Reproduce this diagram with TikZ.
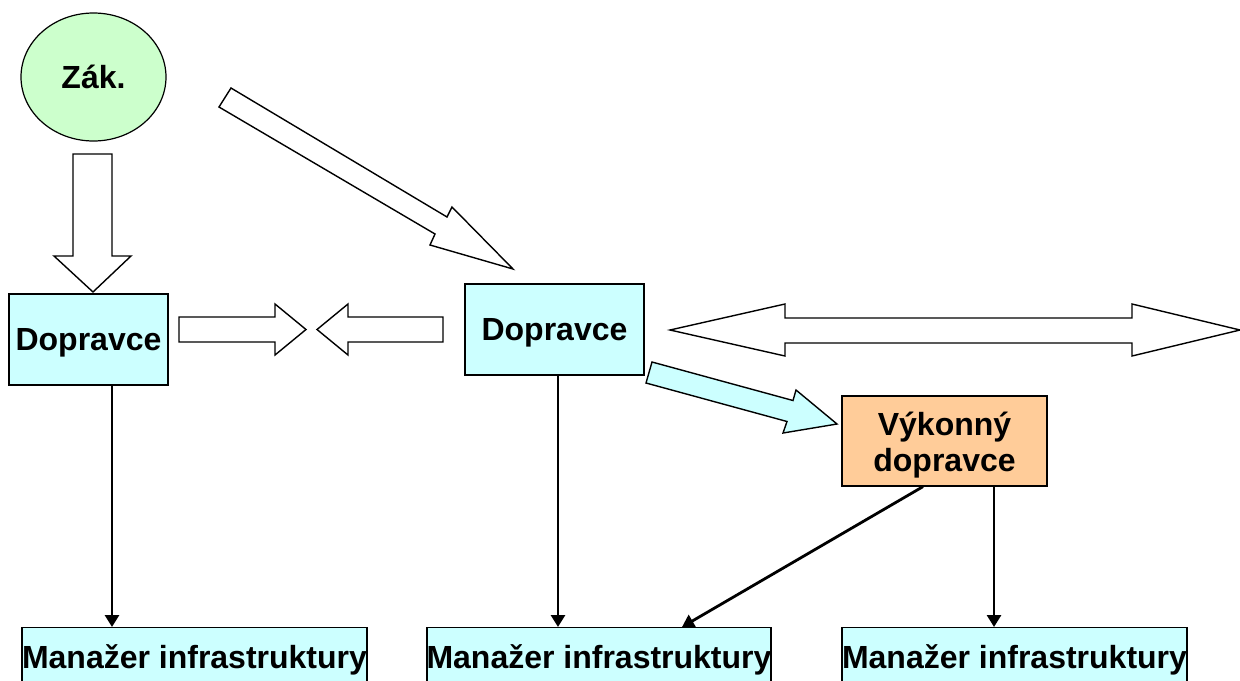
\documentclass[tikz,border=0pt]{standalone}
\usepackage{fontspec}
\setmainfont{Liberation Sans}
\usetikzlibrary{shapes.geometric,arrows.meta}
\definecolor{boxcyan}{HTML}{CCFFFF}
\definecolor{boxgreen}{HTML}{CCFFCC}
\definecolor{boxorange}{HTML}{FFCC99}
\begin{document}
\begin{tikzpicture}[x=0.5pt,y=-0.5pt,
  txt/.style={font=\fontsize{16}{18}\selectfont\bfseries, text=black},
  box/.style={draw=black, line width=0.6pt, fill=boxcyan, inner sep=0pt, txt},
  barrow/.style={draw=black, line width=0.7pt, fill=white, line join=miter},
  conn/.style={draw=black, line width=1.4pt, -{Triangle[length=6pt,width=7pt]}}]
\clip (0,0) rectangle (1240,680);
\fill[white] (0,0) rectangle (1240,680);

% nodes
\node[ellipse, draw=black, line width=0.6pt, fill=boxgreen, inner sep=0pt,
      minimum width=72.5pt, minimum height=64pt, txt] (zak) at (93.5,77) {Zák.};
\node[box, minimum width=79.5pt, minimum height=45.5pt, text depth=0pt] (d1) at (88.5,339.5) {Dopravce};
\node[box, minimum width=89.5pt, minimum height=45.5pt, text depth=0pt] (d2) at (554.5,329.5) {Dopravce};
\node[box, fill=boxorange, minimum width=102.5pt, minimum height=45pt] (vk) at (944.5,441) {};
\node[txt, align=center, inner sep=0pt] (vkt) at ([yshift=-2pt]vk.center) {Výkonný\\dopravce};
\node[box, anchor=north, minimum width=172.5pt, minimum height=50pt] (m1) at (194.5,627) {};
\node[box, anchor=north, minimum width=172pt, minimum height=50pt] (m2) at (599,627) {};
\node[box, anchor=north, minimum width=172.5pt, minimum height=50pt] (m3) at (1014.5,627) {};
\node[txt, anchor=base, inner sep=0pt] (t1) at (194.5,668) {Manažer infrastruktury};
\node[txt, anchor=base, inner sep=0pt] (t2) at (599,668) {Manažer infrastruktury};
\node[txt, anchor=base, inner sep=0pt] (t3) at (1014.5,668) {Manažer infrastruktury};

% block arrows
\draw[barrow] (73,154) -- (112,154) -- (112,256) -- (131,256) -- (93,292) -- (54,256) -- (73,256) -- cycle;
\draw[barrow] (231,88) -- (447,217) -- (452,207) -- (513,269) -- (430,245) -- (435,234) -- (219,107) -- cycle;
\draw[barrow] (179,317) -- (275,317) -- (275,304) -- (306,329.5) -- (275,355) -- (275,342) -- (179,342) -- cycle;
\draw[barrow] (443,317) -- (348,317) -- (348,304) -- (317,329.5) -- (348,355) -- (348,342) -- (443,342) -- cycle;
\draw[barrow] (670,330) -- (785,304) -- (785,318) -- (1132,318) -- (1132,304) -- (1240,330)
  -- (1132,356) -- (1132,343) -- (785,343) -- (785,356) -- cycle;
\draw[barrow, fill=boxcyan] (652,362) -- (793,400.5) -- (796,390) -- (837,424) -- (783,433) -- (787,421.5) -- (646,383) -- cycle;

% connectors
\draw[conn] (d1.south -| 112,0) -- (m1.north -| 112,0);
\draw[conn] (d2.south -| 558,0) -- (m2.north -| 558,0);
\draw[conn] (vk.south -| 994,0) -- (m3.north -| 994,0);
\draw[conn] (vk.south -| 923,0) -- (m2.north -| 682,0);
\end{tikzpicture}
\end{document}
